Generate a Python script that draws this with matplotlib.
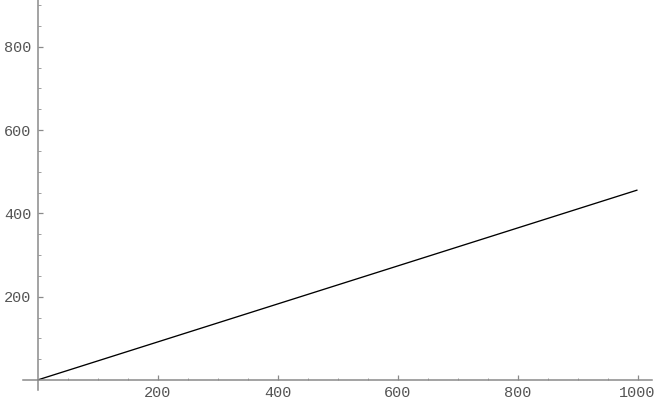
import matplotlib
matplotlib.use("Agg")
import matplotlib.pyplot as plt
from matplotlib.ticker import FixedLocator

# Data
x_vals = [0, 1000]
y_vals = [0, 456]
x_major = [200, 400, 600, 800, 1000]
y_major = [200, 400, 600, 800]
x_minor = [v for v in range(50, 1001, 50) if v not in x_major]
y_minor = [v for v in range(50, 901, 50) if v not in y_major]

fig = plt.figure(figsize=(6.57, 4.05), dpi=100)
ax = fig.add_axes([0, 0, 1, 1])
ax.set_xlim(-62.5, 1032.5)
ax.set_ylim(-60, 912)

ax.plot(x_vals, y_vals, color="black", lw=0.95, solid_capstyle="butt")

for s in ["top", "right"]:
    ax.spines[s].set_visible(False)
ax.spines["left"].set_position(("data", 0))
ax.spines["bottom"].set_position(("data", 0))
ax.spines["left"].set_bounds(-24, 912)
ax.spines["bottom"].set_bounds(-24, 1024)
for s in ["left", "bottom"]:
    ax.spines[s].set_color("#8a8a8a")
    ax.spines[s].set_linewidth(1.1)

ax.xaxis.set_major_locator(FixedLocator(x_major))
ax.yaxis.set_major_locator(FixedLocator(y_major))
ax.xaxis.set_minor_locator(FixedLocator(x_minor))
ax.yaxis.set_minor_locator(FixedLocator(y_minor))

ax.tick_params(axis="both", which="major", direction="in", length=3.3, width=0.9,
               color="#8a8a8a", labelsize=11, labelcolor="#555555")
ax.tick_params(axis="both", which="minor", direction="in", length=1.8, width=0.7,
               color="#a0a0a0")
ax.tick_params(axis="x", which="major", pad=4.0)
ax.tick_params(axis="y", which="major", pad=4.5)
for lab in ax.get_xticklabels() + ax.get_yticklabels():
    lab.set_family(["Liberation Mono", "DejaVu Sans Mono"])

fig.savefig("out.png", dpi=100)
